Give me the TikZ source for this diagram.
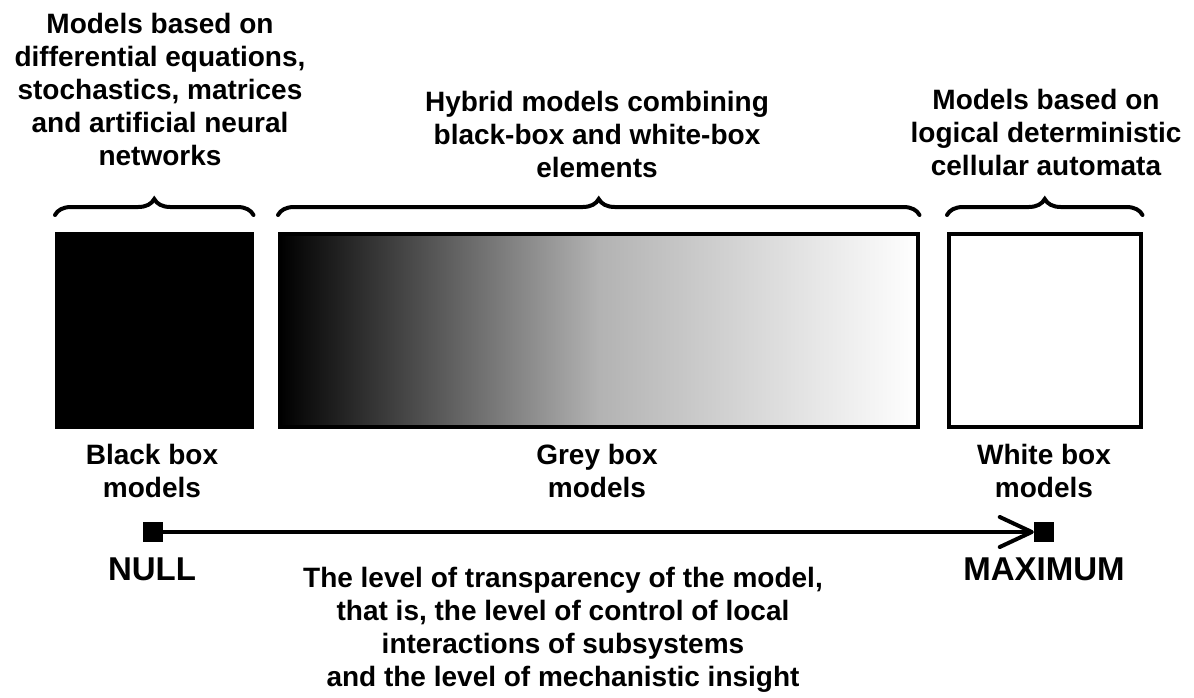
\documentclass[tikz,border=0pt]{standalone}
\usepackage{fontspec}
\setmainfont{Liberation Sans}
\usetikzlibrary{arrows.meta,decorations.pathreplacing,positioning}

\tikzset{
	lbl/.style={font=\bfseries\fontsize{28}{33}\selectfont, align=center, inner sep=0pt},
	endlbl/.style={font=\bfseries\fontsize{33}{38}\selectfont, inner sep=0pt},
	modelbox/.style={draw, line width=3.5pt, anchor=north west, inner sep=0pt, minimum height=193pt},
	grp/.style={decorate, decoration={brace, amplitude=16pt}, line width=4pt, line cap=round},
	marker/.style={fill, minimum size=20pt, inner sep=0pt},
}

\begin{document}
\begin{tikzpicture}[x=1pt, y=1pt, every node/.style={black}]
	\useasboundingbox (0,0) rectangle (1194,-697);

%	the three boxes
	\node[modelbox, fill=black, minimum width=195pt] (bbox) at (55,-232) {};
	\node[modelbox, left color=black, right color=white, middle color=black!30, minimum width=638pt] (gbox) at (278,-232) {};
	\node[modelbox, fill=white, minimum width=192pt] (wbox) at (947,-232) {};

%	braces over the boxes
	\draw[grp] ([yshift=17pt]bbox.north west) -- ([yshift=17pt]bbox.north east);
	\draw[grp] ([yshift=17pt]gbox.north west) -- ([yshift=17pt]gbox.north east);
	\draw[grp] ([yshift=17pt]wbox.north west) -- ([yshift=17pt]wbox.north east);

	\node[lbl] (btop) at (160,-89) {Models based on\\differential equations,\\stochastics, matrices\\and artificial neural\\networks};
	\node[lbl] (gtop) at (597,-134) {Hybrid models combining\\black-box and white-box\\elements};
	\node[lbl] (wtop) at (1046,-132) {Models based on\\logical deterministic\\cellular automata};

	\node[lbl] (bname) at (152,-471) {Black box\\models};
	\node[lbl] (gname) at (597,-471) {Grey box\\models};
	\node[lbl] (wname) at (1044,-471) {White box\\models};

%	the scale
	\node[marker] (null) at (153,-532) {};
	\node[marker] (max) at (1044,-532) {};
	\draw[line width=4pt, line cap=round, -{Straight Barb[length=32pt, width=30pt, round]}] (null) -- (max);

	\node[endlbl] (nulltxt) at (152,-569) {NULL};
	\node[endlbl] (maxtxt) at (1044,-569) {MAXIMUM};
	\node[lbl] (axis) at (563,-630) {The level of transparency of the model,\\that is, the level of control of local\\interactions of subsystems\\and the level of mechanistic insight};
\end{tikzpicture}
\end{document}
